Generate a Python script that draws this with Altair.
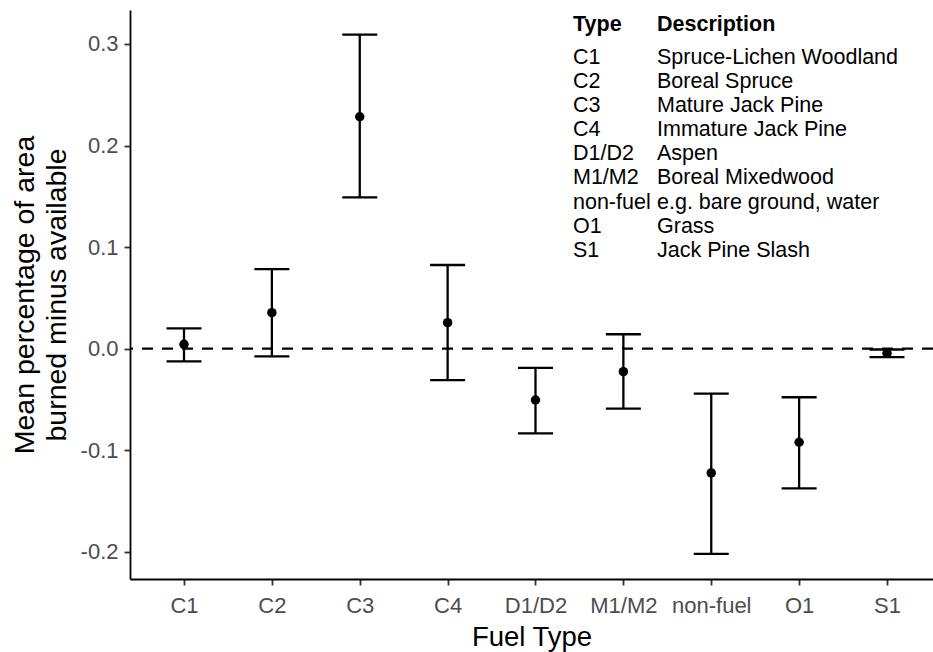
import altair as alt
import pandas as pd

# ---- data ----
fuel_types = ["C1", "C2", "C3", "C4", "D1/D2", "M1/M2", "non-fuel", "O1", "S1"]
mean_diff = [0.0043, 0.0355, 0.2283, 0.0256, -0.0505, -0.0226, -0.1223, -0.0921, -0.0045]
lower_ci = [-0.0124, -0.0075, 0.149, -0.031, -0.0833, -0.059, -0.202, -0.1374, -0.0083]
upper_ci = [0.0201, 0.0784, 0.3091, 0.0824, -0.0188, 0.0142, -0.0443, -0.0478, -0.0008]

legend_header = ["Type", "Description"]
legend_types = fuel_types
legend_desc = [
    "Spruce-Lichen Woodland",
    "Boreal Spruce",
    "Mature Jack Pine",
    "Immature Jack Pine",
    "Aspen",
    "Boreal Mixedwood",
    "e.g. bare ground, water",
    "Grass",
    "Jack Pine Slash",
]
y_ticks = [-0.2, -0.1, 0.0, 0.1, 0.2, 0.3]

FONT = "Liberation Sans"

df = pd.DataFrame({
    "fuel": fuel_types,
    "idx": list(range(1, len(fuel_types) + 1)),
    "mean": mean_diff,
    "lower": lower_ci,
    "upper": upper_ci,
})
zero_df = pd.DataFrame({"mean": [0.0]})
legend_df = pd.DataFrame({"fuel": legend_types, "desc": legend_desc})

label_array = "[" + ",".join("'" + t + "'" for t in fuel_types) + "]"

xscale = alt.Scale(domain=[0.3855, 9.5235], nice=False, zero=False)
yscale = alt.Scale(domain=[-0.2267, 0.3334], nice=False, zero=False)

xaxis = alt.Axis(
    values=list(range(1, len(fuel_types) + 1)),
    labelExpr=label_array + "[datum.value - 1]",
    title="Fuel Type",
    titleFontSize=27.5, titleFontWeight="normal", titleColor="black",
    titleBaseline="alphabetic", titleY=66,
    labelFontSize=22, labelColor="#4D4D4D", labelBaseline="alphabetic",
    labelPadding=27, labelOverlap=False, labelFlush=False, labelAngle=0,
    tickSize=6, tickColor="#333333", tickWidth=1.8,
    domainColor="black", domainWidth=1.8, grid=False,
)
yaxis = alt.Axis(
    values=y_ticks,
    labelExpr="(datum.value < 0 ? '-' : '') + format(abs(datum.value), '.1f')",
    title=["Mean percentage of area", "burned minus available"],
    titleFontSize=28.5, titleFontWeight="normal", titleColor="black",
    titleLineHeight=32, titleBaseline="alphabetic", titleAlign="center",
    titleAngle=270, titleX=-97, titleY=284.5,
    labelFontSize=22, labelColor="#4D4D4D", labelPadding=6,
    tickSize=6, tickColor="#333333", tickWidth=1.8,
    domainColor="black", domainWidth=1.8, grid=False,
)


def xenc():
    return alt.X("idx:Q", scale=xscale, axis=xaxis)


def yenc(field):
    return alt.Y(field + ":Q", scale=yscale, axis=yaxis)


zero_line = alt.Chart(zero_df).mark_rule(
    color="black", strokeWidth=2.3, strokeDash=[11, 9]
).encode(y=yenc("mean"))

bars = alt.Chart(df).mark_rule(color="black", strokeWidth=2.3).encode(
    x=xenc(), y=yenc("lower"), y2="upper:Q"
)
cap_lo = alt.Chart(df).mark_tick(
    color="black", orient="horizontal", size=35, thickness=2.3, opacity=1
).encode(x=xenc(), y=yenc("lower"))
cap_hi = alt.Chart(df).mark_tick(
    color="black", orient="horizontal", size=35, thickness=2.3, opacity=1
).encode(x=xenc(), y=yenc("upper"))
points = alt.Chart(df).mark_circle(color="black", size=90, opacity=1).encode(
    x=xenc(), y=yenc("mean")
)

main = alt.layer(zero_line, bars, cap_lo, cap_hi, points)

hdr_type = alt.Chart(pd.DataFrame({"h": [legend_header[0]]})).mark_text(
    align="left", baseline="alphabetic", font=FONT, fontSize=21.5,
    fontWeight="bold", color="black"
).encode(text="h:N", x=alt.value(443), y=alt.value(21))
hdr_desc = alt.Chart(pd.DataFrame({"h": [legend_header[1]]})).mark_text(
    align="left", baseline="alphabetic", font=FONT, fontSize=21.5,
    fontWeight="bold", color="black"
).encode(text="h:N", x=alt.value(527), y=alt.value(21))

row_y = alt.Y(
    "fuel:O",
    scale=alt.Scale(type="point", domain=legend_types, range=[54, 246.7], padding=0),
    axis=None,
)
rows_type = alt.Chart(legend_df).mark_text(
    align="left", baseline="alphabetic", font=FONT, fontSize=21.5, color="black"
).encode(text="fuel:N", x=alt.value(443), y=row_y)
rows_desc = alt.Chart(legend_df).mark_text(
    align="left", baseline="alphabetic", font=FONT, fontSize=21.5, color="black"
).encode(text="desc:N", x=alt.value(527), y=row_y)

legend = alt.layer(hdr_type, hdr_desc, rows_type, rows_desc)

chart = (
    alt.layer(main, legend)
    .resolve_scale(y="independent")
    .properties(
        width=803,
        height=569,
        autosize=alt.AutoSizeParams(type="none"),
        padding={"left": 130, "top": 10, "right": 0, "bottom": 73},
        background="white",
    )
    .configure_view(stroke=None)
    .configure_axis(labelFont=FONT, titleFont=FONT)
    .configure_text(font=FONT)
)

chart.save("out.html", embed_options={"renderer": "svg", "actions": False})
